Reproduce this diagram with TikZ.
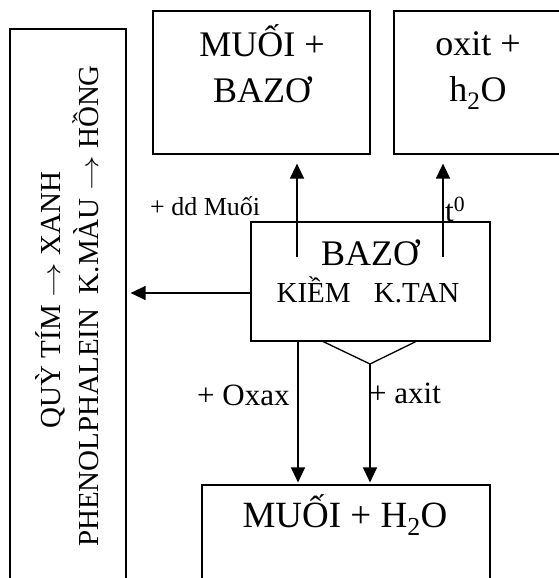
\documentclass[tikz,border=0pt]{standalone}
\usepackage{fontspec}
\setmainfont{Liberation Serif}
\usetikzlibrary{arrows.meta}
\tikzset{
  box/.style={draw, line width=1.2pt, inner sep=0pt},
  arr/.style={line width=1.3pt, -{Triangle[length=15pt,width=14pt]}},
  plain/.style={line width=1.3pt},
  big/.style={font=\fontsize{36}{46}\selectfont, inner sep=0pt, align=center},
  mid/.style={font=\fontsize{29}{37}\selectfont, inner sep=0pt},
  lbl/.style={font=\fontsize{31}{36}\selectfont, inner sep=0pt},
}
\newcommand{\myarr}{ \scalebox{1.4}[1.0]{$\rightarrow$} }
\begin{document}
\begin{tikzpicture}[x=1pt,y=-1pt]
\useasboundingbox (0,0) rectangle (559,578);
% boxes
\node[box, minimum width=116pt, minimum height=570pt] (ind) at (68,314) {};
\node[box, minimum width=217pt, minimum height=143pt] (mb) at (261.5,82.5) {};
\node[box, minimum width=171pt, minimum height=143pt] (ox) at (479.5,82.5) {};
\node[box, minimum width=239pt, minimum height=119pt] (bz) at (370.5,281.5) {};
\node[box, minimum width=288pt, minimum height=115pt] (mh) at (346,542.5) {};
% texts
\node[big, anchor=base] (tmb) at (262,102) {MUỐI +\\BAZƠ};
\node[big, anchor=base] (tox) at (478,101) {oxit +\\h\textsubscript{2}O};
\node[big, anchor=base] (tbz) at (370,265) {BAZƠ};
\node[mid, anchor=base] (tkt) at (368,302) {KIỀM\hspace{0.8em}K.TAN};
\node[font=\fontsize{37}{46}\selectfont, inner sep=0pt, anchor=base] (tmh) at (345,527) {MUỐI + H\textsubscript{2}O};
\node[mid, anchor=base, rotate=90] (tq) at (60,300) {QUỲ TÍM\myarr XANH};
\node[mid, anchor=base, rotate=90] (tp) at (98,306) {PHENOLPHALEIN\hspace{0.5em}K.MÀU\myarr HỒNG};
% labels
\node[font=\fontsize{26}{30}\selectfont, inner sep=0pt, anchor=base west] (ldd) at (150,215) {+ dd Muối};
\node[lbl, anchor=base west] (lt) at (445,221) {t\textsuperscript{0}};
\node[lbl, anchor=base west] (lox) at (197,405) {+ Oxax};
\node[lbl, anchor=base west] (lax) at (369,403) {+ axit};
% connectors
\coordinate (u1) at (297,257);
\coordinate (u2) at (443,257);
\draw[arr, shorten >=9pt] (u1) -- (u1 |- mb.south);
\draw[arr, shorten >=9pt] (u2) -- (u2 |- ox.south);
\coordinate (l1) at (bz.west |- 0,293);
\draw[arr, shorten >=4pt] (l1) -- (l1 -| ind.east);
\coordinate (d1) at (298,341);
\draw[arr, shorten >=2pt] (d1) -- (d1 |- mh.north);
\coordinate (ta) at (322,341);
\coordinate (tm) at (370,364);
\coordinate (tb) at (417,341);
\draw[plain, line join=miter] (ta) -- (tm) -- (tb);
\draw[arr, shorten >=2pt] (tm) -- (tm |- mh.north);
\end{tikzpicture}
\end{document}
